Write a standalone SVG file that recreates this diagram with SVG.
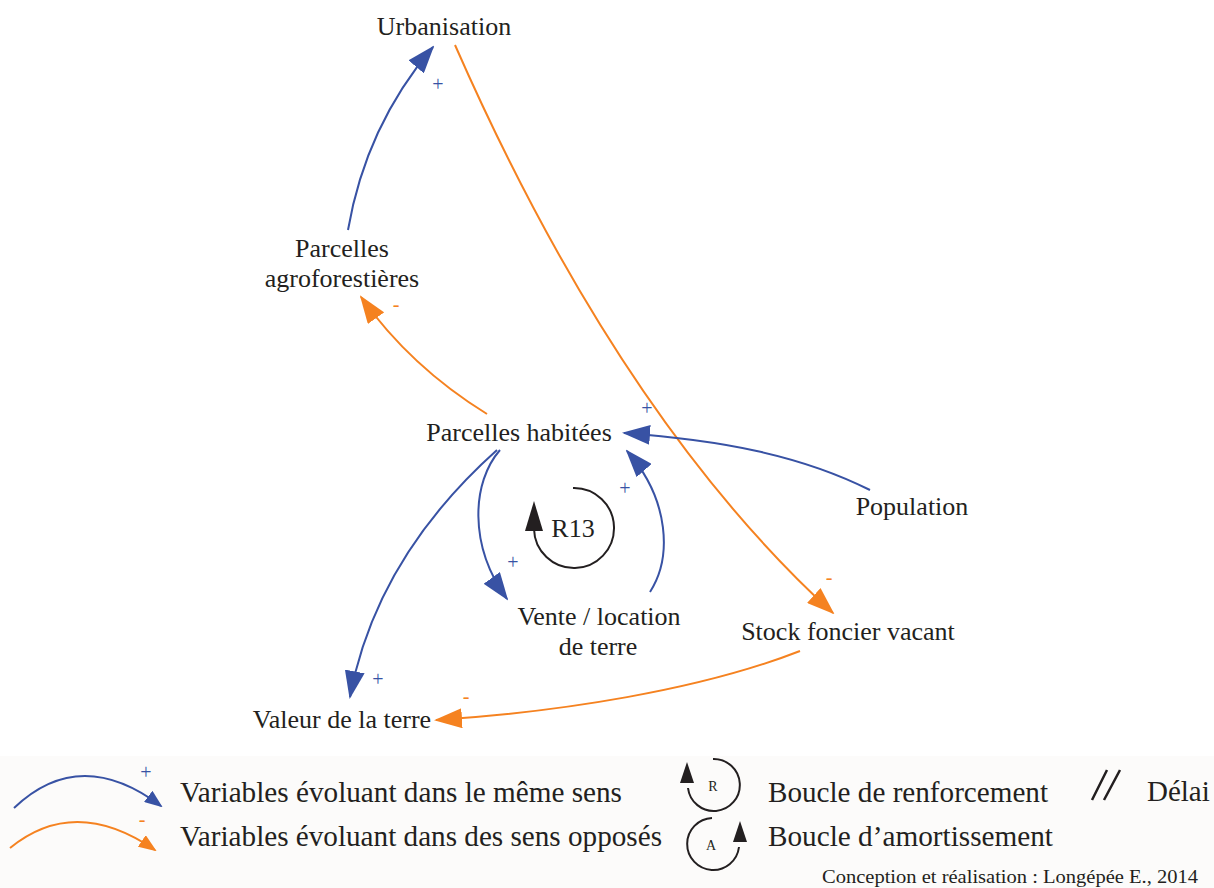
<svg xmlns="http://www.w3.org/2000/svg" width="1214" height="888" viewBox="0 0 1214 888" font-family="Liberation Serif, Times New Roman, serif">
<defs>
<style>
.lbl{font-size:26px;fill:#231f20;text-anchor:middle}
.leg{font-size:29px;fill:#231f20}
.pos{font-size:20px;fill:#3852a4;text-anchor:middle}
.neg{font-size:20px;fill:#f58220;text-anchor:middle}
.b{fill:none;stroke:#3852a4;stroke-width:2}
.o{fill:none;stroke:#f58220;stroke-width:2}
.k{fill:none;stroke:#231f20;stroke-width:2}
</style>
<marker id="ab" markerUnits="userSpaceOnUse" viewBox="0 0 28 20" refX="26" refY="10" markerWidth="28" markerHeight="20" orient="auto"><path d="M0,0 L28,10 L0,20 z" fill="#3852a4"/></marker>
<marker id="ao" markerUnits="userSpaceOnUse" viewBox="0 0 28 20" refX="26" refY="10" markerWidth="28" markerHeight="20" orient="auto"><path d="M0,0 L28,10 L0,20 z" fill="#f58220"/></marker>
<marker id="sb" markerUnits="userSpaceOnUse" viewBox="0 0 18 14" refX="16" refY="7" markerWidth="18" markerHeight="14" orient="auto"><path d="M0,0 L18,7 L0,14 z" fill="#3852a4"/></marker>
<marker id="so" markerUnits="userSpaceOnUse" viewBox="0 0 18 14" refX="16" refY="7" markerWidth="18" markerHeight="14" orient="auto"><path d="M0,0 L18,7 L0,14 z" fill="#f58220"/></marker>
</defs>
<rect x="0" y="0" width="1214" height="888" fill="#ffffff"/>
<rect x="0" y="756" width="1214" height="132" fill="#fcfbfa"/>

<g id="connectors" font-family="Liberation Serif, serif">
<path class="b" d="M348,230 C360,160 388,100 433,47" marker-end="url(#ab)"/>
<path class="o" d="M455,45 Q619,418 833,613" marker-end="url(#ao)"/>
<path class="o" d="M487,414 C440,385 395,345 361,297" marker-end="url(#ao)"/>
<path class="b" d="M870,490 C800,455 720,440 624,433" marker-end="url(#ab)"/>
<path class="b" d="M650,592 C672,558 670,500 627,451" marker-end="url(#ab)"/>
<path class="b" d="M500,450 C472,482 468,545 507,599" marker-end="url(#ab)"/>
<path class="b" d="M497,450 C430,510 370,590 350,697" marker-end="url(#ab)"/>
<path class="o" d="M800,651 C700,690 560,712 436,720" marker-end="url(#ao)"/>
<text class="pos" x="438" y="91">+</text>
<text class="neg" x="396" y="311">-</text>
<text class="pos" x="647" y="415">+</text>
<text class="pos" x="625" y="495">+</text>
<text class="pos" x="513" y="569">+</text>
<text class="pos" x="378" y="686">+</text>
<text class="neg" x="829" y="584">-</text>
<text class="neg" x="466" y="703">-</text>
</g>

<g id="loop-R13" font-family="Liberation Serif, serif">
<path class="k" d="M573,488 A40,40 0 1 1 534,529"/>
<polygon points="534,501 525,531 543,531" fill="#231f20"/>
<text class="lbl" x="573" y="537">R13</text>
</g>

<g id="node-urbanisation" font-family="Liberation Serif, serif"><text class="lbl" x="444" y="35">Urbanisation</text></g>
<g id="node-agroforestieres" font-family="Liberation Serif, serif"><text class="lbl" x="342" y="257">Parcelles</text><text class="lbl" x="342" y="287">agroforestières</text></g>
<g id="node-habitees" font-family="Liberation Serif, serif"><text class="lbl" x="519" y="441">Parcelles habitées</text></g>
<g id="node-population" font-family="Liberation Serif, serif"><text class="lbl" x="912" y="515">Population</text></g>
<g id="node-vente" font-family="Liberation Serif, serif"><text class="lbl" x="599" y="625">Vente / location</text><text class="lbl" x="598" y="655">de terre</text></g>
<g id="node-stock" font-family="Liberation Serif, serif"><text class="lbl" x="848" y="640">Stock foncier vacant</text></g>
<g id="node-valeur" font-family="Liberation Serif, serif"><text class="lbl" x="342" y="728">Valeur de la terre</text></g>

<g id="legend" font-family="Liberation Serif, serif">
<path class="b" d="M14,808 Q80,745 161,806" marker-end="url(#sb)"/>
<text class="pos" x="146" y="779">+</text>
<path class="o" d="M10,848 Q75,795 155,850" marker-end="url(#so)"/>
<text class="neg" x="142" y="826">-</text>
<text class="leg" x="180" y="802" textLength="442" lengthAdjust="spacingAndGlyphs">Variables évoluant dans le même sens</text>
<text class="leg" x="180" y="846" textLength="482" lengthAdjust="spacingAndGlyphs">Variables évoluant dans des sens opposés</text>
<path class="k" d="M713,759 A26,26 0 1 1 688,788"/>
<polygon points="687,762 680,783 694,783" fill="#231f20"/>
<text x="713" y="791" font-size="14" fill="#231f20" text-anchor="middle">R</text>
<path class="k" d="M712,818 A26,26 0 1 0 739,847"/>
<polygon points="740,821 733,842 747,842" fill="#231f20"/>
<text x="711" y="850" font-size="14" fill="#231f20" text-anchor="middle">A</text>
<text class="leg" x="768" y="802" textLength="280" lengthAdjust="spacingAndGlyphs">Boucle de renforcement</text>
<text class="leg" x="768" y="846" textLength="285" lengthAdjust="spacingAndGlyphs">Boucle d’amortissement</text>
<path d="M1092,800 L1107,770 M1104,800 L1120,770" stroke="#231f20" stroke-width="2.5" fill="none"/>
<text class="leg" x="1147" y="801">Délai</text>
<text x="822" y="883" font-size="19" fill="#231f20" textLength="376" lengthAdjust="spacingAndGlyphs">Conception et réalisation : Longépée E., 2014</text>
</g>
</svg>
